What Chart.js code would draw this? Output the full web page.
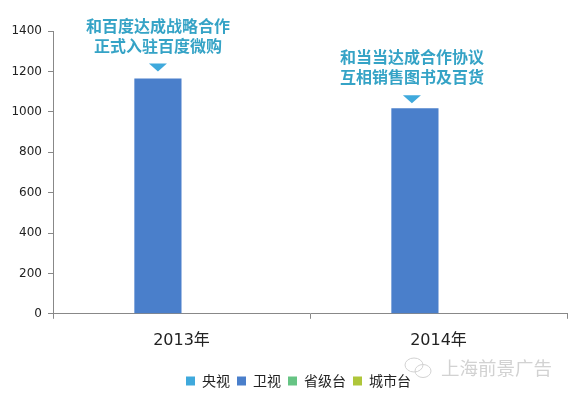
<!DOCTYPE html>
<html>
<head>
<meta charset="utf-8">
<script src="https://cdn.jsdelivr.net/npm/chart.js@4"></script>
<style>
  body { margin: 0; background: #fff; }
  canvas { display: block; }
</style>
</head>
<body>
<canvas id="myChart" width="570" height="396"></canvas>
<script>
const categories = ['2013年', '2014年'];
const seriesNames = ['央视', '卫视', '省级台', '城市台'];
const cctv = [0, 0];
const satellite = [1165, 1017];
const provincial = [0, 0];
const city = [0, 0];
const yTicks = [0, 200, 400, 600, 800, 1000, 1200, 1400];
const notes = [
    ['和百度达成战略合作', '正式入驻百度微购'],
    ['和当当达成合作协议', '互相销售图书及百货']
];
const cjk = '"Noto Sans CJK SC"';

// 标注文字和小三角，跟着柱子走
const notesPlugin = {
    id: 'notes',
    afterDatasetsDraw(chart) {
        const c = chart.ctx;
        const bars = chart.getDatasetMeta(1).data;
        const gaps = [7, 5];
        const shifts = [0, -3];
        c.save();
        bars.forEach((bar, i) => {
            const x = bar.x + shifts[i];
            const tip = bar.y - gaps[i];
            c.fillStyle = '#3fa9dc';
            c.beginPath();
            c.moveTo(x - 9, tip - 8);
            c.lineTo(x + 9, tip - 8);
            c.lineTo(x, tip);
            c.closePath();
            c.fill();
            c.font = 'bold 16px ' + cjk;
            c.fillStyle = '#35a3c6';
            c.textAlign = 'center';
            c.textBaseline = 'middle';
            c.fillText(notes[i][0], x, tip - 46);
            c.fillText(notes[i][1], x, tip - 26);
        });
        c.restore();
    }
};

// 右下角水印
const watermarkPlugin = {
    id: 'watermark',
    afterDraw(chart) {
        const c = chart.ctx;
        c.save();
        c.strokeStyle = '#d2d2d2';
        c.lineWidth = 1;
        c.beginPath();
        c.ellipse(414, 365, 9, 7, 0, 0, Math.PI * 2);
        c.stroke();
        c.beginPath();
        c.ellipse(423, 371, 8, 6.5, 0, 0, Math.PI * 2);
        c.stroke();
        c.font = '18.5px ' + cjk;
        c.fillStyle = '#d2d2d2';
        c.textAlign = 'left';
        c.textBaseline = 'middle';
        c.fillText('上海前景广告', 441, 368);
        c.restore();
    }
};

// 图例往右下挪一点
const legendShift = {
    id: 'legendShift',
    afterLayout(chart) {
        chart.legend.left += 15;
        chart.legend.right += 15;
        chart.legend.top += 5;
        chart.legend.bottom += 5;
    }
};

const ctx = document.getElementById('myChart').getContext('2d');
const colors = ['#3fa9dc', '#4a7fcb', '#66c484', '#afc63a'];
const seriesData = [cctv, satellite, provincial, city];

new Chart(ctx, {
    type: 'bar',
    data: {
        labels: categories,
        datasets: seriesNames.map((name, i) => ({
            label: name,
            data: seriesData[i],
            backgroundColor: colors[i],
            categoryPercentage: 0.734,
            barPercentage: 1
        }))
    },
    options: {
        responsive: false,
        animation: false,
        layout: { padding: { top: 31, right: 3, bottom: 3, left: 0 } },
        plugins: {
            tooltip: { enabled: false },
            legend: {
                position: 'bottom',
                labels: {
                    boxWidth: 9,
                    boxHeight: 9,
                    padding: 7,
                    color: '#222',
                    font: { family: cjk, size: 14 }
                }
            }
        },
        scales: {
            x: {
                grid: { drawOnChartArea: false, color: '#888', tickLength: 5 },
                border: { color: '#888' },
                ticks: {
                    color: '#222',
                    padding: 12,
                    font: { family: '"DejaVu Sans", ' + cjk, size: 16 }
                }
            },
            y: {
                min: 0,
                max: 1400,
                afterFit(scale) { scale.width = 53; },
                afterBuildTicks(scale) { scale.ticks = yTicks.map(v => ({ value: v })); },
                grid: { drawOnChartArea: false, color: '#888', tickLength: 5 },
                border: { color: '#888' },
                ticks: {
                    color: '#222',
                    padding: 6,
                    callback: v => String(v),
                    font: { family: '"DejaVu Sans"', size: 12 }
                }
            }
        }
    },
    plugins: [notesPlugin, watermarkPlugin, legendShift]
});
</script>
</body>
</html>
